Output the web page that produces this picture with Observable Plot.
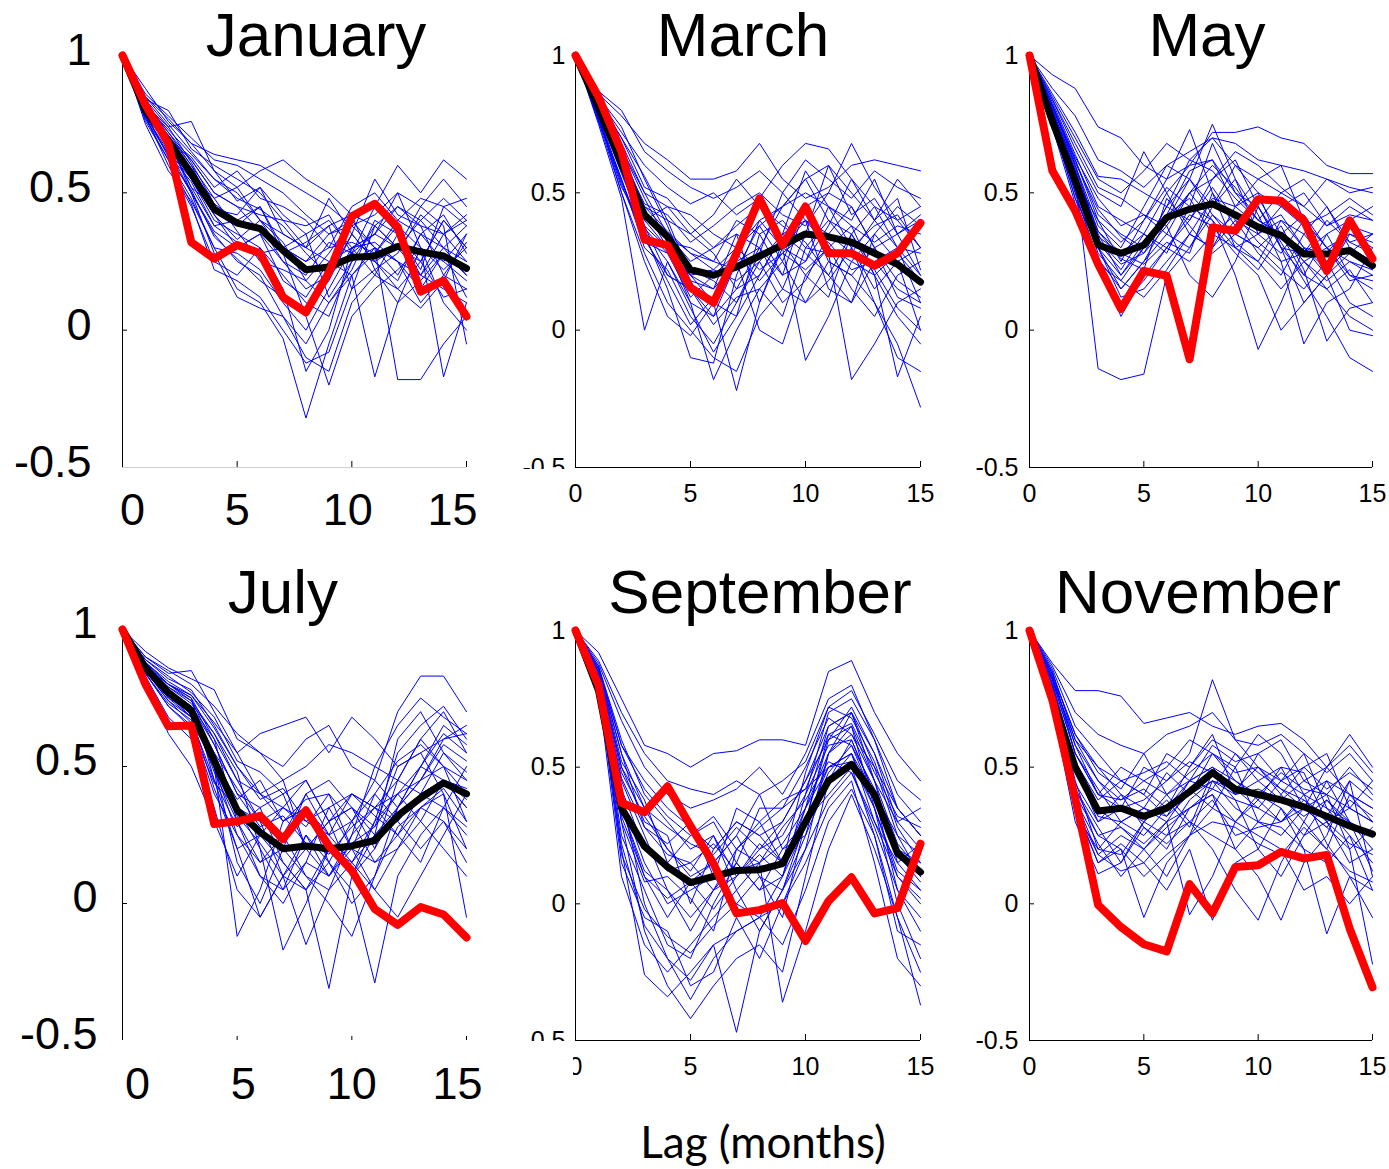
<!DOCTYPE html>
<html><head><meta charset="utf-8">
<script src="https://cdn.jsdelivr.net/npm/d3@7"></script>
<script src="https://cdn.jsdelivr.net/npm/@observablehq/plot@0.6"></script>
<style>
body{margin:0;background:#fff;}
#root{position:relative;width:1389px;height:1169px;overflow:hidden;background:#fff;font-family:"Liberation Sans",Arial,sans-serif;}
.panel{position:absolute;}
.title{position:absolute;font-size:62px;line-height:1;white-space:nowrap;transform:translateX(-50%);color:#000;}
.mask{position:absolute;background:#fff;}
.xlabel{position:absolute;font-family:Lato,"Open Sans",sans-serif;font-size:44px;line-height:1;white-space:nowrap;transform:translateX(-50%);color:#000;}
</style></head><body><div id="root"></div><script>
// ---------- data ----------
const lags = [0,1,2,3,4,5,6,7,8,9,10,11,12,13,14,15];
const yTicks = [-0.5, 0, 0.5, 1];
const xTicks = [0, 5, 10, 15];
const xMinorTicks = [5, 10, 15];
const yMinorTicks = [0, 0.5];
const months = ["January","March","May","July","September","November"];

const janObs  = [1,0.82,0.68,0.32,0.26,0.31,0.28,0.12,0.065,0.21,0.415,0.46,0.375,0.14,0.18,0.05];
const janMean = [1,0.80,0.69,0.57,0.44,0.39,0.37,0.29,0.22,0.23,0.265,0.27,0.305,0.285,0.27,0.225];
const janBlue = [
 [1,.86,.78,.70,.62,.60,.55,.50,.42,.35,.40,.45,.60,.50,.62,.55],
 [1,.84,.74,.76,.58,.52,.58,.62,.55,.50,.42,.38,.45,.40,.48,.40],
 [1,.82,.72,.62,.50,.45,.42,.40,.30,.48,.35,.55,.42,.38,.35,.42],
 [1,.78,.65,.55,.40,.35,.30,.20,.10,.05,.25,.30,.20,.35,.30,.20],
 [1,.80,.70,.50,.35,.25,.20,.05,-.10,-.15,.10,.20,.35,.25,.40,.30],
 [1,.76,.62,.48,.30,.15,.10,-.03,-.32,-.05,.20,.30,.25,.10,.20,.15],
 [1,.85,.75,.65,.55,.50,.40,.35,.30,.25,.20,-.17,.10,.30,.25,.35],
 [1,.79,.68,.52,.45,.38,.45,.30,.25,.35,.38,.30,-.18,-.18,-.05,.05],
 [1,.81,.66,.58,.42,.30,.35,.25,.15,.20,.28,.25,.30,.45,.38,-.05],
 [1,.83,.72,.60,.48,.52,.40,.32,.18,.10,.22,.40,.35,.20,.30,.38],
 [1,.77,.64,.54,.38,.40,.45,.28,.05,-.20,.05,.15,.22,.30,-.17,.10],
 [1,.80,.70,.62,.50,.45,.36,.30,.25,.30,.32,.28,.40,.35,.25,.18],
 [1,.78,.60,.45,.25,.20,.30,.15,-.15,.00,.30,.20,.15,.08,.18,.35],
 [1,.84,.80,.66,.60,.55,.50,.40,.38,.42,.28,.35,.30,.25,.40,.30],
 [1,.79,.67,.56,.48,.36,.25,.22,.18,.28,.40,.30,.25,.20,.15,.10],
 [1,.81,.71,.60,.44,.42,.52,.35,.30,.38,.15,.22,.28,.42,.35,.40],
 [1,.75,.58,.47,.30,.28,.22,.10,.00,.15,.30,.35,.50,.30,.10,.00],
 [1,.82,.73,.64,.55,.48,.44,.38,.28,.20,.35,.25,.18,.35,.42,.28],
 [1,.80,.69,.52,.38,.32,.28,.30,.35,.12,.25,.38,.30,.40,.30,.25],
 [1,.78,.64,.50,.36,.30,.35,.18,.12,.25,.30,.32,.25,.15,.28,.20],
 [1,.88,.76,.68,.64,.62,.60,.55,.50,.45,.38,.42,.50,.45,.55,.45],
 [1,.80,.66,.50,.28,.12,.08,.05,-.05,.10,.20,.28,.38,.30,.22,.30],
 [1,.83,.70,.63,.52,.58,.48,.45,.40,.30,.45,.50,.40,.48,.45,.38],
 [1,.77,.62,.46,.22,.18,.12,.00,-.12,-.08,.15,.38,.30,.20,.35,.25],
 [1,.85,.77,.68,.58,.47,.52,.42,.35,.40,.30,.35,.45,.38,.20,.32],
 [1,.79,.63,.51,.34,.26,.18,.12,.08,.18,.35,.25,.15,.25,.12,.15],
 [1,.82,.74,.61,.46,.40,.38,.25,.20,.32,.28,.45,.35,.22,.45,.48],
 [1,.80,.67,.55,.42,.33,.40,.28,.32,.38,.42,.22,.10,.18,.28,.12]
];

const marObs  = [1,0.85,0.65,0.33,0.31,0.155,0.10,0.28,0.48,0.31,0.45,0.28,0.28,0.235,0.28,0.39];
const marMean = [1,0.81,0.605,0.42,0.34,0.22,0.20,0.23,0.27,0.31,0.35,0.34,0.32,0.28,0.24,0.175];
const marBlue = [
 [1,.86,.78,.68,.62,.55,.55,.58,.68,.55,.48,.52,.60,.62,.60,.58],
 [1,.84,.72,.60,.52,.46,.50,.42,.48,.60,.68,.66,.55,.45,.40,.30],
 [1,.80,.62,.42,.35,.28,.22,.30,.38,.25,.45,.50,.68,.52,.40,.45],
 [1,.78,.55,.30,.22,.05,-.05,.10,.25,.35,.28,.20,.10,.25,.30,.10],
 [1,.75,.48,.00,.25,.10,-.18,.00,.15,.05,.30,.40,.35,.20,.05,-.05],
 [1,.82,.65,.45,.40,.20,.10,-.22,.10,.30,.25,.45,.40,.55,.35,.20],
 [1,.79,.58,.35,.15,-.10,-.12,.20,.40,.30,-.11,.05,.25,.35,.45,.38],
 [1,.83,.70,.52,.48,.38,.30,.35,.30,.45,.55,.40,.30,.10,-.05,-.28],
 [1,.77,.52,.38,.20,.15,.05,.25,.00,-.05,.20,.30,.15,.05,.20,.25],
 [1,.81,.66,.48,.32,.30,.25,.40,.35,.40,.30,.28,-.18,-.05,.10,.15],
 [1,.80,.60,.40,.45,.35,.28,.15,.20,.35,.40,.35,.45,.30,.12,.08],
 [1,.85,.74,.55,.38,.18,.15,.25,.30,.15,.35,.60,.50,.40,.55,.45],
 [1,.78,.50,.25,.05,-.02,.10,.05,.35,.20,.45,.25,.20,.30,.18,.12],
 [1,.82,.68,.50,.35,.25,.30,.38,.45,.38,.32,.20,.35,.45,.30,.20],
 [1,.76,.55,.32,.28,.12,.20,.28,.18,.28,.22,.30,.38,.20,-.17,.05],
 [1,.83,.64,.44,.30,.22,.18,.10,.28,.50,.40,.15,.10,.35,.25,.30],
 [1,.79,.57,.36,.25,.08,-.08,.05,.20,.35,.58,.45,.30,.15,.25,.00],
 [1,.81,.63,.46,.42,.32,.38,.45,.50,.42,.38,.50,.45,.30,.35,.40],
 [1,.80,.60,.38,.30,.20,.22,.18,.25,.10,.18,.35,.28,.40,.48,.22],
 [1,.77,.54,.34,.18,.02,.12,.30,.22,.28,.35,.32,.22,.25,.15,.10],
 [1,.87,.80,.65,.58,.52,.48,.52,.58,.50,.62,.55,.48,.58,.52,.48],
 [1,.76,.50,.28,.10,.00,-.10,-.15,.05,.15,.10,.25,.20,.10,-.10,-.15],
 [1,.82,.66,.50,.45,.42,.35,.30,.40,.45,.50,.45,.38,.32,.38,.35],
 [1,.79,.59,.40,.30,.10,.05,.15,.30,.20,.25,.38,.55,.40,.30,.28],
 [1,.84,.70,.56,.40,.35,.42,.55,.45,.30,.40,.30,.25,.20,.28,.18],
 [1,.78,.53,.33,.20,.15,.02,.12,.15,.25,.10,.18,.30,.38,.42,.30],
 [1,.81,.62,.45,.36,.28,.25,.22,.38,.45,.55,.60,.42,.48,.35,.42],
 [1,.80,.58,.37,.28,.20,.15,.35,.10,.32,.20,.12,.35,.22,.08,.00]
];

const mayObs  = [1,0.58,0.435,0.24,0.077,0.216,0.198,-0.106,0.374,0.362,0.477,0.471,0.40,0.216,0.40,0.26];
const mayMean = [1,0.76,0.545,0.31,0.28,0.31,0.41,0.44,0.46,0.42,0.375,0.345,0.277,0.277,0.29,0.235];
const mayBlue = [
 [1,.93,.88,.74,.70,.60,.55,.60,.72,.72,.74,.70,.68,.60,.57,.57],
 [1,.85,.70,.55,.50,.58,.68,.62,.70,.60,.55,.50,.45,.55,.52,.50],
 [1,.80,.55,-.14,-.18,-.16,.20,.30,.42,.35,.30,.22,.15,.25,.10,.05],
 [1,.78,.55,.40,.25,.40,.55,.73,.50,.30,.25,.40,.30,.20,.28,.35],
 [1,.82,.60,.35,.20,.30,.45,.40,.55,.62,.45,.30,.20,.35,.40,.45],
 [1,.75,.48,.30,.15,.25,.35,.50,.40,.20,-.07,.10,.30,.22,.30,.25],
 [1,.79,.58,.32,.22,.35,.28,.45,.68,.50,.40,.35,.25,.15,.05,.00],
 [1,.84,.66,.50,.45,.65,.50,.35,.30,.45,.55,.60,.40,.30,.20,.15],
 [1,.76,.50,.25,.05,.20,.30,.25,.35,.30,.35,.45,.50,.38,.45,.40],
 [1,.81,.62,.42,.35,.30,.40,.55,.45,.55,.42,.25,-.05,.10,.15,.30],
 [1,.77,.52,.28,.18,.12,.22,.35,.30,.40,.28,.20,.35,.45,.30,.22],
 [1,.83,.64,.45,.40,.35,.50,.60,.62,.45,.38,.42,.30,.28,.38,.35],
 [1,.78,.56,.33,.24,.28,.38,.20,.12,.25,.45,.32,.18,.05,-.10,-.15],
 [1,.80,.60,.38,.30,.45,.60,.55,.75,.55,.35,.28,.40,.30,.25,.20],
 [1,.74,.46,.22,.10,.18,.30,.42,.38,.28,.20,.00,.10,.20,.35,.30],
 [1,.82,.63,.48,.38,.42,.35,.30,.45,.60,.50,.45,.38,.42,.48,.42],
 [1,.79,.57,.36,.26,.22,.48,.38,.28,.35,.30,.38,.22,-.04,.08,.10],
 [1,.86,.72,.56,.55,.50,.45,.62,.58,.48,.40,.50,.55,.45,.32,.28],
 [1,.77,.53,.30,.20,.32,.42,.48,.35,.42,.32,.25,.28,.35,.20,.18],
 [1,.80,.58,.34,.28,.24,.32,.28,.50,.38,.48,.35,.25,.18,.25,.22],
 [1,.88,.78,.62,.58,.52,.60,.65,.70,.68,.62,.60,.58,.55,.50,.52],
 [1,.77,.50,.26,.15,.25,.40,.50,.60,.52,.40,.35,.20,.15,.22,.10],
 [1,.82,.62,.40,.32,.40,.52,.45,.40,.30,.22,.35,.42,.30,.35,.32],
 [1,.79,.55,.30,.12,.15,.25,.35,.48,.45,.50,.30,.10,.20,.00,-.02],
 [1,.84,.68,.52,.48,.42,.38,.50,.55,.65,.60,.52,.45,.38,.42,.40],
 [1,.76,.48,.24,.18,.30,.45,.55,.42,.32,.25,.15,.25,.30,.18,.20],
 [1,.80,.59,.36,.28,.35,.30,.40,.52,.40,.35,.40,.35,.25,.30,.25],
 [1,.81,.61,.44,.34,.28,.42,.58,.62,.50,.45,.30,.28,.40,.32,.35]
];

const julObs  = [1,0.80,0.647,0.65,0.29,0.30,0.32,0.235,0.34,0.21,0.12,-0.02,-0.078,-0.013,-0.04,-0.124];
const julMean = [1,0.86,0.77,0.705,0.52,0.34,0.26,0.20,0.21,0.20,0.21,0.23,0.32,0.385,0.44,0.40];
const julBlue = [
 [1,.92,.86,.82,.78,.60,.55,.50,.60,.65,.50,.45,.70,.83,.83,.70],
 [1,.90,.84,.85,.70,.55,.62,.65,.68,.55,.68,.60,.50,.55,.60,.62],
 [1,.82,.62,.50,.30,.10,.25,.15,.05,-.31,.10,.25,.30,.40,.45,.35],
 [1,.88,.80,.75,.45,.20,-.05,.10,.20,.30,.35,.20,.45,.60,.70,.55],
 [1,.86,.76,.68,.50,-.12,.05,.30,.35,.15,.05,-.29,.10,.25,.35,.50],
 [1,.87,.78,.72,.60,.45,.30,.10,-.15,.05,.25,.35,.40,.30,.20,.10],
 [1,.85,.75,.70,.55,.35,.20,-.17,.00,.20,.10,.30,.55,.65,.72,.60],
 [1,.89,.82,.78,.65,.50,.40,.35,.30,.25,.15,.05,-.05,.10,.25,.40],
 [1,.84,.72,.65,.40,.25,.10,.00,.15,.35,.20,.40,.30,.20,.30,.15],
 [1,.86,.80,.74,.58,.40,.35,.40,.45,.30,.35,.25,.60,.70,.55,.45],
 [1,.88,.77,.70,.48,.30,.15,.25,.10,.00,-.12,.10,.35,.45,.50,.30],
 [1,.85,.74,.66,.52,.38,.45,.30,.38,.40,.30,.45,.35,.50,.65,.58],
 [1,.87,.79,.73,.62,.48,.20,.05,.25,.15,.30,.15,.20,.35,.40,-.05],
 [1,.86,.76,.69,.50,.15,.00,.20,.40,.25,.40,.35,.25,.15,.35,.25],
 [1,.88,.81,.76,.66,.55,.40,.45,.20,.10,.25,.50,.45,.60,.50,.45],
 [1,.84,.73,.67,.45,.28,.35,.15,.05,.20,.15,.30,.40,.45,.60,.65],
 [1,.86,.78,.71,.55,.42,.30,.35,.28,.40,.20,.05,.20,.30,.45,.38],
 [1,.87,.80,.75,.60,.30,.10,.05,.15,.10,.22,.28,.50,.55,.40,.20],
 [1,.85,.75,.68,.42,.20,.25,.35,.45,.30,.40,.32,.25,.40,.55,.48],
 [1,.89,.83,.77,.68,.52,.48,.40,.20,.30,.10,.20,.35,.50,.62,.55],
 [1,.90,.85,.80,.72,.62,.55,.45,.50,.58,.55,.50,.65,.75,.68,.62],
 [1,.83,.68,.60,.35,.05,-.05,.10,.25,.10,.20,.15,.25,.35,.42,.30],
 [1,.87,.79,.74,.62,.45,.40,.30,.35,.25,.30,.40,.52,.58,.50,.40],
 [1,.85,.74,.68,.50,.25,.15,.20,.10,.05,.15,.25,.35,.45,.58,.52],
 [1,.88,.80,.76,.64,.50,.38,.42,.30,.35,.40,.35,.30,.40,.45,.35],
 [1,.86,.77,.70,.52,.32,.22,.10,.05,.15,.00,.10,.28,.35,.30,.20],
 [1,.84,.72,.64,.44,.35,.30,.25,.40,.45,.35,.28,.40,.50,.45,.42],
 [1,.87,.78,.72,.58,.40,.28,.32,.22,.18,.28,.35,.45,.40,.35,.28]
];

const sepObs  = [1,0.80,0.37,0.335,0.43,0.285,0.147,-0.035,-0.023,0.003,-0.136,0.01,0.097,-0.035,-0.016,0.22];
const sepMean = [1,0.78,0.35,0.21,0.135,0.078,0.10,0.122,0.125,0.147,0.30,0.45,0.51,0.40,0.185,0.116];
const sepBlue = [
 [1,.92,.75,.58,.55,.50,.55,.56,.60,.60,.58,.85,.89,.70,.55,.45],
 [1,.88,.67,.50,.40,.35,.38,.42,.50,.40,.55,.75,.80,.60,.35,.25],
 [1,.85,.40,.00,-.20,-.35,-.20,-.10,-.05,.00,.20,.55,.70,.45,.15,.05],
 [1,.82,.30,-.10,-.30,-.42,-.30,-.20,-.15,-.25,.10,.45,.60,.40,.05,-.10],
 [1,.80,.20,-.26,-.34,-.25,-.15,-.47,-.10,.05,.25,.55,.65,.35,.00,-.20],
 [1,.86,.55,.35,.20,.10,.15,.25,.10,-.05,.30,.60,.72,.55,.30,.20],
 [1,.84,.45,.25,.05,-.10,.05,.20,.30,.15,.35,.65,.70,.50,.25,.10],
 [1,.78,.10,-.15,-.25,-.15,-.05,.05,.15,-.36,-.10,.20,.40,.20,-.05,-.37],
 [1,.87,.60,.40,.30,.20,.25,.10,.20,.25,.40,.70,.75,.60,.40,.30],
 [1,.83,.38,.15,.00,.05,.10,.00,-.05,.10,.35,.50,.55,.30,.10,.00],
 [1,.85,.50,.30,.25,.00,.20,.30,.25,.30,.45,.60,.65,.45,.30,.35],
 [1,.81,.25,.05,-.15,-.20,.00,.15,.05,.20,.30,.40,.50,.25,-.10,-.15],
 [1,.86,.52,.38,.15,.25,.30,.15,.35,.35,.50,.68,.62,.50,.35,.25],
 [1,.80,.15,-.05,-.10,-.30,-.25,-.05,-.20,.00,.15,.35,.45,.15,-.20,-.30],
 [1,.84,.42,.20,.12,.15,.05,.10,.18,.10,.40,.58,.60,.40,.20,.10],
 [1,.87,.58,.45,.35,.28,.20,.30,.25,.15,.48,.72,.68,.52,.28,.15],
 [1,.82,.35,.10,-.05,.08,.15,.25,.40,.20,.25,.45,.55,.35,.12,.05],
 [1,.85,.48,.32,.20,.12,.25,.05,-.10,.05,.30,.62,.58,.42,.20,.15],
 [1,.83,.30,.08,.10,.02,-.10,.20,.15,.28,.38,.52,.48,.30,.15,.22],
 [1,.86,.55,.28,.22,.30,.10,.35,.30,.38,.42,.50,.55,.40,.25,.18],
 [1,.89,.70,.55,.45,.42,.40,.45,.40,.45,.52,.72,.78,.62,.45,.38],
 [1,.81,.22,-.08,-.20,-.28,-.15,-.10,-.05,-.15,.05,.30,.42,.25,-.05,-.25],
 [1,.85,.50,.35,.28,.22,.18,.28,.20,.30,.45,.65,.70,.55,.35,.25],
 [1,.83,.35,.12,.05,-.05,.05,.15,.05,.10,.28,.48,.58,.38,.18,.08],
 [1,.86,.58,.42,.32,.25,.32,.20,.28,.35,.42,.62,.66,.48,.32,.28],
 [1,.80,.18,-.02,-.12,-.18,-.08,.00,.10,.05,.20,.38,.48,.28,.05,-.05],
 [1,.84,.46,.28,.18,.15,.22,.12,.15,.22,.35,.55,.62,.45,.22,.12],
 [1,.82,.32,.10,.02,.08,-.02,.10,.22,.15,.30,.50,.52,.35,.10,.02]
];

const novObs  = [1,0.745,0.386,-0.004,-0.085,-0.148,-0.174,0.072,-0.035,0.135,0.141,0.19,0.166,0.179,-0.09,-0.305];
const novMean = [1,0.75,0.50,0.34,0.35,0.32,0.35,0.41,0.48,0.42,0.40,0.38,0.355,0.32,0.285,0.255];
const novBlue = [
 [1,.88,.78,.78,.76,.66,.68,.70,.65,.62,.65,.66,.60,.50,.62,.50],
 [1,.85,.55,.40,.35,.50,.45,.55,.82,.60,.50,.45,.40,.35,.30,.20],
 [1,.80,.45,.20,.30,.25,.35,.45,.50,.40,.55,.60,.45,.50,.40,.35],
 [1,.72,.30,.11,.15,.28,.20,.35,.40,.20,.10,-.06,.15,.25,.45,.10],
 [1,.78,.40,.25,.20,-.05,.15,.25,.45,.35,.30,.40,.50,.55,.35,.30],
 [1,.82,.60,.50,.40,.35,.30,-.04,.10,.30,.40,.35,.20,-.11,.10,.05],
 [1,.75,.35,.18,.25,.20,.10,.25,.35,.50,.30,.25,.35,.40,.20,-.22],
 [1,.86,.65,.55,.45,.40,.55,.50,.60,.55,.45,.50,.48,.30,.35,.45],
 [1,.79,.42,.28,.15,.30,.40,.30,.20,.05,-.06,.15,.30,.20,.40,.30],
 [1,.83,.58,.40,.50,.45,.50,.60,.55,.50,.62,.55,.40,.45,.30,.25],
 [1,.77,.38,.22,.10,.20,.28,.35,.40,.30,.25,.20,.05,.10,.00,.10],
 [1,.84,.62,.48,.42,.55,.40,.45,.50,.45,.38,.30,.35,.50,.58,.48],
 [1,.80,.50,.30,.35,.30,.25,.38,.45,.42,.35,.45,.55,.35,.25,.15],
 [1,.76,.36,.15,.22,.15,.05,.20,-.06,.15,.20,.35,.25,.30,.15,.20],
 [1,.82,.55,.42,.30,.35,.48,.40,.55,.48,.50,.40,.30,.45,.40,.35],
 [1,.78,.44,.30,.40,.28,.22,.30,.38,.25,.28,.30,.40,.22,.10,-.05],
 [1,.85,.60,.45,.38,.42,.35,.50,.62,.40,.45,.38,.45,.40,.50,.40],
 [1,.79,.48,.35,.28,.22,.30,.42,.35,.30,.38,.50,.35,.28,.20,.28],
 [1,.74,.33,.20,.18,.30,.38,.28,.48,.38,.20,.10,.25,.38,.30,.12],
 [1,.81,.52,.38,.45,.40,.32,.45,.42,.55,.48,.42,.38,.32,.45,.38],
 [1,.87,.70,.62,.58,.55,.62,.65,.70,.60,.58,.62,.55,.48,.55,.45],
 [1,.76,.38,.18,.12,.15,.25,.30,.25,.20,.30,.28,.20,.15,.25,.05],
 [1,.82,.55,.40,.38,.45,.40,.48,.55,.45,.40,.48,.42,.40,.35,.30],
 [1,.78,.42,.25,.28,.20,.30,.35,.42,.38,.35,.30,.38,.30,.22,.18],
 [1,.84,.62,.50,.45,.48,.52,.45,.58,.52,.55,.45,.50,.42,.48,.42],
 [1,.75,.35,.15,.20,.10,.18,.25,.30,.28,.22,.18,.28,.20,.12,.08],
 [1,.80,.50,.32,.30,.35,.32,.40,.45,.40,.42,.38,.32,.38,.28,.25],
 [1,.83,.58,.45,.35,.38,.45,.52,.48,.42,.50,.42,.35,.28,.38,.32]
];

const seriesByMonth = {
  January:   {blue: janBlue, mean: janMean, obs: janObs},
  March:     {blue: marBlue, mean: marMean, obs: marObs},
  May:       {blue: mayBlue, mean: mayMean, obs: mayObs},
  July:      {blue: julBlue, mean: julMean, obs: julObs},
  September: {blue: sepBlue, mean: sepMean, obs: sepObs},
  November:  {blue: novBlue, mean: novMean, obs: novObs}
};

// ---------- layout ----------
const layout = {
  January:   {left:0,   top:0,   width:480, height:545, ml:122, mr:14, mt:55, mb:78, fs:45, yPad:31, yDy:-5, xPad:26, xDx:[10,0,-4,-14], xLine:"#cfcfcf", xTick:6, tx:316, ty:4},
  March:     {left:480, top:0,   width:460, height:545, ml:95,  mr:20, mt:55, mb:78, fs:25, yPad:10, yDy:0,  xPad:17, xDx:[0,0,0,0], xLine:"#000", xTick:6, tx:743, ty:4},
  May:       {left:940, top:0,   width:449, height:545, ml:89,  mr:17, mt:55, mb:78, fs:25, yPad:11, yDy:0,  xPad:17, xDx:[0,0,0,0], xLine:"#000", xTick:6, tx:1207, ty:4},
  July:      {left:0,   top:560, width:480, height:560, ml:122, mr:14, mt:69, mb:80, fs:45, yPad:25, yDy:-6, xPad:27, xDx:[15,6,0,-9], xLine:null,  xTick:4, tx:283, ty:561},
  September: {left:480, top:560, width:460, height:560, ml:95,  mr:20, mt:70, mb:80, fs:25, yPad:10, yDy:0,  xPad:17, xDx:[0,0,0,0], xLine:"#000", xTick:6, tx:760, ty:561},
  November:  {left:940, top:560, width:449, height:560, ml:89,  mr:17, mt:70, mb:80, fs:25, yPad:11, yDy:0,  xPad:17, xDx:[0,0,0,0], xLine:"#000", xTick:6, tx:1198, ty:561}
};

const root = document.getElementById("root");

function toRows(values, run) {
  return values.map((v, j) => ({lag: lags[j], value: v, run}));
}

for (const m of months) {
  const s = seriesByMonth[m], L = layout[m];
  const fw = L.width - L.ml - L.mr, fh = L.height - L.mt - L.mb;
  const blueRows = s.blue.flatMap((arr, i) => toRows(arr, i));
  const meanRows = toRows(s.mean, 0);
  const obsRows = toRows(s.obs, 0);
  const marks = [
    Plot.ruleX([0], {stroke: "#000", strokeWidth: 1}),
    L.xLine ? Plot.ruleY([-0.5], {stroke: L.xLine, strokeWidth: 1}) : null,
    Plot.tickX(xMinorTicks, {x: d => d, stroke: "#000", insetTop: fh - L.xTick}),
    Plot.tickY(yMinorTicks, {y: d => d, stroke: "#000", insetRight: fw - 5}),
    Plot.axisY(yTicks, {tickSize: 0, tickPadding: L.yPad, fontSize: L.fs, dy: L.yDy, tickFormat: d => String(d), label: null}),
    ...xTicks.map((t, i) => Plot.axisX([t], {tickSize: 0, tickPadding: L.xPad, fontSize: L.fs, dx: L.xDx[i], tickFormat: d => String(d), label: null})),
    Plot.line(blueRows, {x: "lag", y: "value", z: "run", stroke: "#0000ff", strokeWidth: 1}),
    Plot.line(meanRows, {x: "lag", y: "value", stroke: "#000", strokeWidth: 7, strokeLinejoin: "round"}),
    Plot.line(obsRows, {x: "lag", y: "value", stroke: "#ff0000", strokeWidth: 8, strokeLinejoin: "round"})
  ];
  const chart = Plot.plot({
    width: L.width, height: L.height,
    marginLeft: L.ml, marginRight: L.mr, marginTop: L.mt, marginBottom: L.mb,
    x: {domain: [0, 15]},
    y: {domain: [-0.5, 1]},
    style: {fontFamily: "Liberation Sans, Arial, sans-serif", background: "transparent", overflow: "visible", color: "#000"},
    marks
  });
  const div = document.createElement("div");
  div.className = "panel";
  div.style.left = L.left + "px";
  div.style.top = L.top + "px";
  div.appendChild(chart);
  root.appendChild(div);

  const t = document.createElement("div");
  t.className = "title";
  t.textContent = m;
  t.style.left = L.tx + "px";
  t.style.top = L.ty + "px";
  root.appendChild(t);
}

// clipped tick labels, as in the original figure
function mask(left, top, width, height) {
  const d = document.createElement("div");
  d.className = "mask";
  Object.assign(d.style, {left: left + "px", top: top + "px", width: width + "px", height: height + "px"});
  root.appendChild(d);
}
mask(500, 469, 70, 14);
mask(500, 1041, 70, 14);
mask(555, 1050, 18, 36);

const xl = document.createElement("div");
xl.className = "xlabel";
xl.textContent = "Lag (months)";
xl.style.left = "763px";
xl.style.top = "1119px";
root.appendChild(xl);
</script></body></html>
